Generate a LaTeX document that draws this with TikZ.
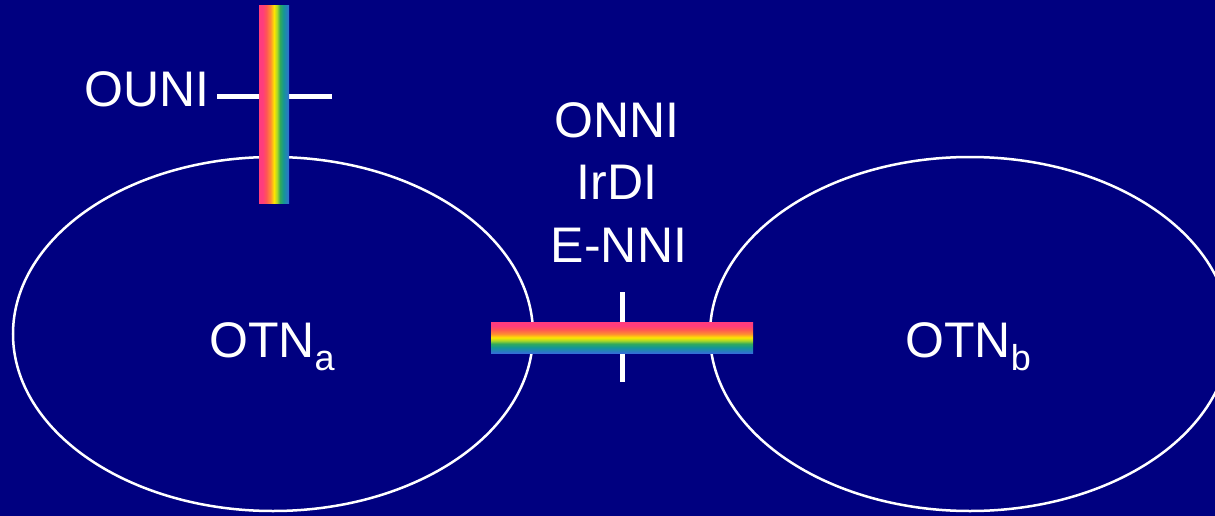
\documentclass[tikz,border=0pt]{standalone}
\usepackage{fontspec}
\setmainfont{Liberation Sans}
\usetikzlibrary{shapes.geometric}
\definecolor{navybg}{RGB}{0,0,128}
\definecolor{rbpink}{RGB}{255,60,125}
\definecolor{rbred}{RGB}{255,85,85}
\definecolor{rborange}{RGB}{255,140,50}
\definecolor{rbyellow}{RGB}{255,230,0}
\definecolor{rblime}{RGB}{170,215,40}
\definecolor{rbgreen}{RGB}{50,170,90}
\definecolor{rbteal}{RGB}{20,150,150}
\definecolor{rbblue}{RGB}{50,110,215}
\pgfdeclarehorizontalshading{rainbowh}{100bp}{color(0bp)=(rbpink); color(25bp)=(rbpink); color(31bp)=(rbpink); color(37bp)=(rbred); color(44bp)=(rborange); color(50bp)=(rbyellow); color(55bp)=(rblime); color(60bp)=(rbgreen); color(66bp)=(rbteal); color(75bp)=(rbblue); color(100bp)=(rbblue)}
\pgfdeclareverticalshading{rainbowv}{100bp}{color(0bp)=(rbblue); color(25bp)=(rbblue); color(34bp)=(rbteal); color(40bp)=(rbgreen); color(45bp)=(rblime); color(50bp)=(rbyellow); color(56bp)=(rborange); color(63bp)=(rbred); color(69bp)=(rbpink); color(75bp)=(rbpink); color(100bp)=(rbpink)}
\newcommand\subtxt[1]{\raisebox{-13pt}{\fontsize{36}{36}\selectfont #1}}
\begin{document}
\begin{tikzpicture}[x=1pt,y=-1pt,
  lbl/.style={text=white, font=\fontsize{50}{60}\selectfont, inner sep=0pt},
  net/.style={ellipse, draw=white, line width=2.5pt, minimum width=520pt, minimum height=354pt, inner sep=0pt},
  tickline/.style={draw=white, line width=5pt},
  vbar/.style={shading=rainbowh, minimum width=30pt, minimum height=197pt, inner sep=0pt, draw=none},
  hbar/.style={shading=rainbowv, minimum width=262pt, minimum height=31pt, inner sep=0pt, draw=none}]
\path[use as bounding box, fill=navybg] (0,0) rectangle (1215,516);
\clip (0,0) rectangle (1215,516);
% networks
\node[net] (otna) at (273,334) {};
\node[net] (otnb) at (970,334) {};
\node[lbl, anchor=base west] (otnalbl) at (209,357) {OTN\subtxt{a}};
\node[lbl, anchor=base west] (otnblbl) at (905,357) {OTN\subtxt{b}};
% OUNI
\coordinate (ouniL) at (217,97);
\coordinate (ouniR) at (332,97);
\draw[tickline] (ouniL) -- (ouniR);
\node[vbar] (ounibar) at (274,104.5) {};
\node[lbl, anchor=base west] (ounilbl) at (84,107) {OUNI};
% ONNI
\coordinate (enniT) at (622,292);
\coordinate (enniB) at (622,382);
\draw[tickline] (enniT) -- (enniB);
\node[hbar] (ennibar) at (622,337.5) {};
\node[lbl, anchor=base] (onnilbl) at (617,138) {ONNI};
\node[lbl, anchor=base] (irdilbl) at (617,199) {IrDI};
\node[lbl, anchor=base] (ennilbl) at (619,262) {E-NNI};
\end{tikzpicture}
\end{document}
